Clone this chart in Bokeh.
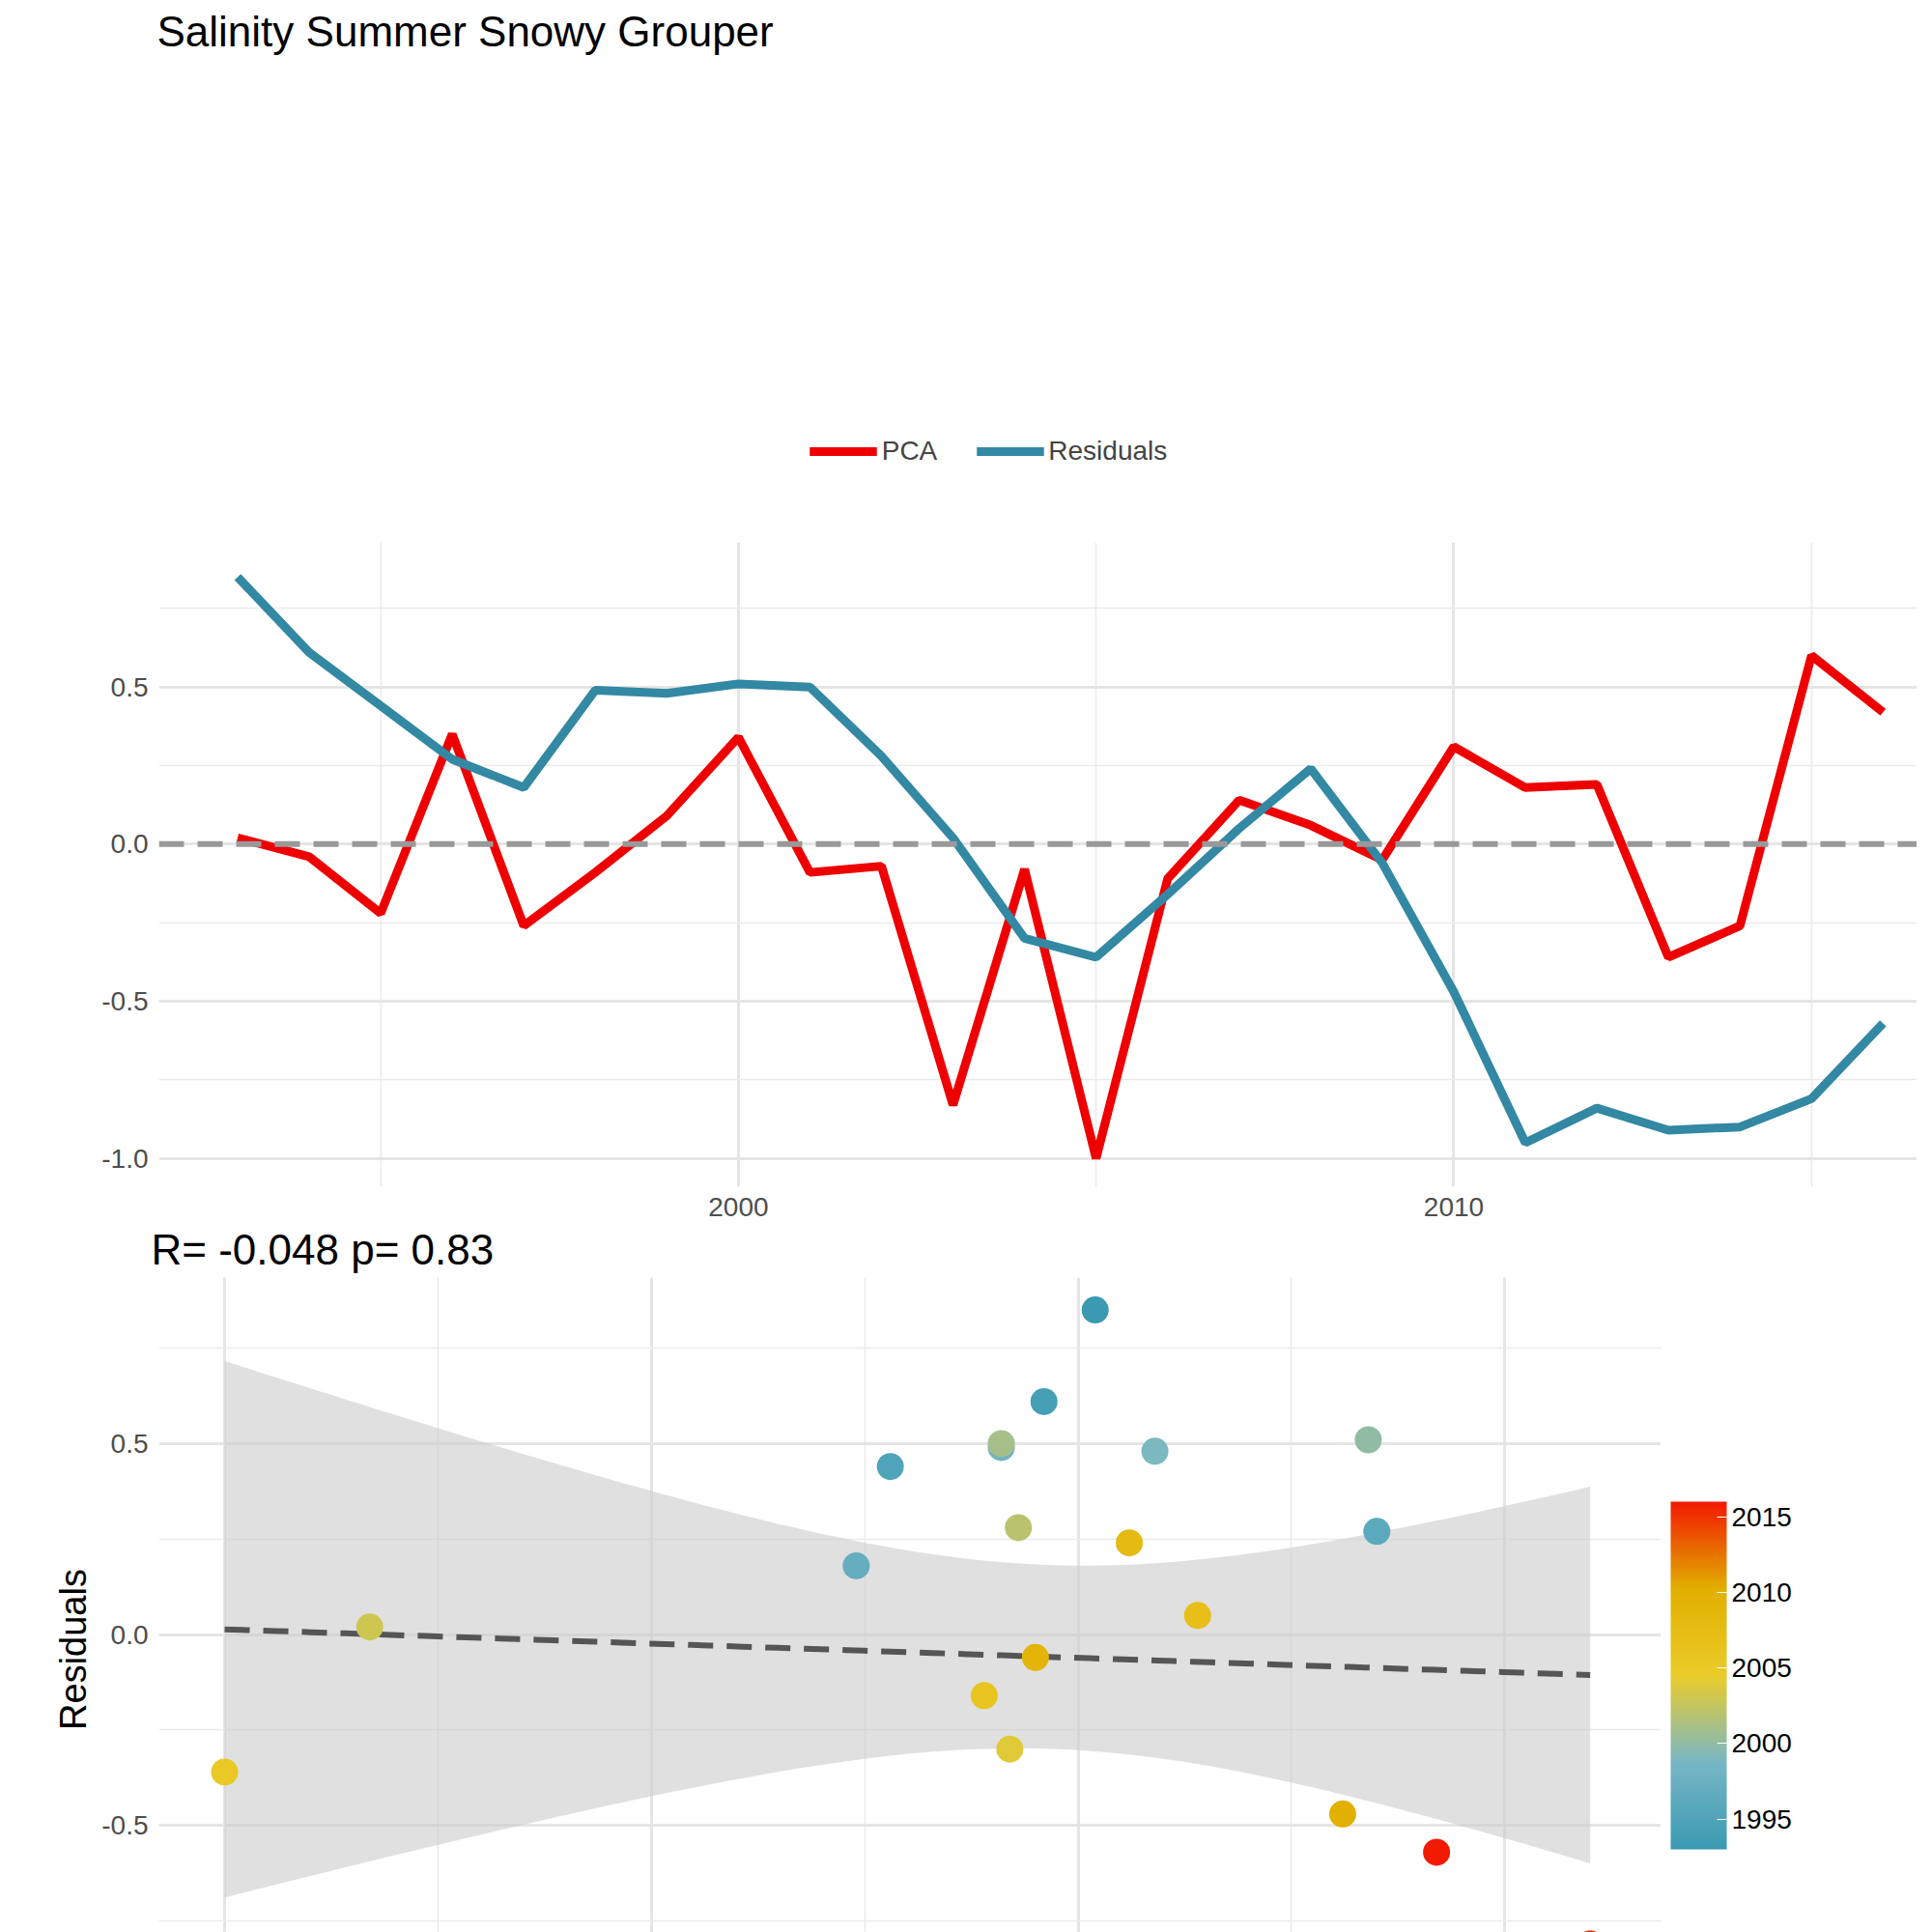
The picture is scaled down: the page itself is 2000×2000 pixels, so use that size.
import numpy as np
from bokeh.plotting import figure
from bokeh.models import (ColumnDataSource, LinearColorMapper, ColorBar, FixedTicker,
                          Span, Legend, LegendItem, Title)
from bokeh.layouts import column
from bokeh.embed import file_html
from bokeh.resources import INLINE

years = list(range(1993, 2017))
pca = [0.02, -0.04, -0.22, 0.35, -0.26, -0.09, 0.09, 0.34, -0.09, -0.07, -0.83, -0.08,
       -1.0, -0.11, 0.14, 0.06, -0.05, 0.31, 0.18, 0.19, -0.36, -0.26, 0.60, 0.42]
resid = [0.85, 0.61, 0.44, 0.27, 0.18, 0.49, 0.48, 0.51, 0.50, 0.28, 0.02, -0.30,
         -0.36, -0.16, 0.05, 0.24, -0.06, -0.47, -0.95, -0.84, -0.91, -0.90, -0.81, -0.57]
r_text = "R= -0.048  p= 0.83"

FONT = "Liberation Sans"
RED = "#EE0000"
BLUE = "#3388A3"
zissou = ["#3B9AB2", "#78B7C5", "#EBCC2A", "#E1AF00", "#F21A00"]


def interp_palette(cols, n=256):
    rgb = np.array([[int(c[i:i + 2], 16) for i in (1, 3, 5)] for c in cols], float)
    pos = np.linspace(0, 1, len(cols))
    t = np.linspace(0, 1, n)
    out = np.column_stack([np.interp(t, pos, rgb[:, k]) for k in range(3)])
    return ["#%02x%02x%02x" % tuple(int(round(v)) for v in row) for row in out]


def style(p):
    p.background_fill_color = "white"
    p.outline_line_color = None
    for ax in (p.xaxis, p.yaxis):
        ax.axis_line_color = None
        ax.major_tick_line_color = None
        ax.minor_tick_line_color = None
        ax.major_label_text_font = FONT
        ax.major_label_text_font_size = "28px"
        ax.major_label_text_color = "#4d4d4d"
        ax.axis_label_text_font = FONT
        ax.axis_label_text_font_size = "38px"
        ax.axis_label_text_font_style = "normal"
        ax.axis_label_text_color = "black"
    for g in (p.xgrid, p.ygrid):
        g.grid_line_color = "#e5e5e5"
        g.grid_line_width = 3
        g.minor_grid_line_color = "#ebebeb"
        g.minor_grid_line_width = 1.6


ov = {-1.0: "-1.0", -0.5: "-0.5", 0.0: "0.0", 0.5: "0.5"}

# ---- top time series
top = figure(frame_width=1870, frame_height=667, x_range=(1991.9, 2017.15), y_range=(-1.09, 0.96),
             output_backend="svg", toolbar_location=None,
             min_border_left=109, min_border_right=5, min_border_top=5, min_border_bottom=10)
style(top)
top.xaxis.ticker = FixedTicker(ticks=[2000, 2010], minor_ticks=[1995, 2005, 2015])
top.yaxis.ticker = FixedTicker(ticks=[-1.0, -0.5, 0.0, 0.5], minor_ticks=[-0.75, -0.25, 0.25, 0.75])
top.yaxis.major_label_overrides = ov
top.add_layout(Span(location=0, dimension="width", line_color="#999999",
                    line_width=6, line_dash="26 14"))
l_pca = top.line(years, pca, line_color=RED, line_width=9)
l_res = top.line(years, resid, line_color=BLUE, line_width=9)
leg = Legend(items=[LegendItem(label="PCA", renderers=[l_pca]),
                    LegendItem(label="Residuals", renderers=[l_res])],
             orientation="horizontal", location="center",
             label_text_font=FONT, label_text_font_size="28px",
             glyph_width=70, glyph_height=30, spacing=40, border_line_color=None,
             margin=0, padding=30)
top.add_layout(leg, "above")
top.add_layout(Title(text="Salinity Summer Snowy Grouper", text_font=FONT,
                     text_font_size="44px", text_font_style="normal",
                     text_color="black", offset=-2), "above")

# ---- bottom scatter with regression
x = np.array(pca)
y = np.array(resid)
n = len(x)
b1, b0 = np.polyfit(x, y, 1)
s = np.sqrt(np.sum((y - (b0 + b1 * x)) ** 2) / (n - 2))
xs = np.linspace(x.min(), x.max(), 80)
se = s * np.sqrt(1 / n + (xs - x.mean()) ** 2 / np.sum((x - x.mean()) ** 2))
fit = b0 + b1 * xs
tcrit = 2.074

bot = figure(frame_width=1555, frame_height=770, x_range=(-1.077, 0.683), y_range=(-1.013, 0.935),
             output_backend="svg", toolbar_location=None,
             x_axis_label="PCAs", y_axis_label="Residuals",
             min_border_left=164, min_border_right=30, min_border_top=20, min_border_bottom=5)
style(bot)
bot.xaxis.ticker = FixedTicker(ticks=[-1.0, -0.5, 0.0, 0.5], minor_ticks=[-0.75, -0.25, 0.25])
bot.yaxis.ticker = FixedTicker(ticks=[-1.0, -0.5, 0.0, 0.5], minor_ticks=[-0.75, -0.25, 0.25, 0.75])
bot.xaxis.major_label_overrides = ov
bot.yaxis.major_label_overrides = ov
bot.varea(x=xs, y1=fit - tcrit * se, y2=fit + tcrit * se, fill_color="#cccccc", fill_alpha=0.6)
bot.line(xs, fit, line_color="#555555", line_width=6, line_dash="26 14")
mapper = LinearColorMapper(palette=interp_palette(zissou), low=1993, high=2016)
src = ColumnDataSource(dict(x=pca, y=resid, year=years))
bot.scatter("x", "y", source=src, size=28, line_color=None,
            fill_color={"field": "year", "transform": mapper})
cb = ColorBar(color_mapper=mapper, width=58, height=360,
              ticker=FixedTicker(ticks=[1995, 2000, 2005, 2010, 2015]),
              major_label_text_font=FONT, major_label_text_font_size="28px",
              major_label_text_color="black",
              major_tick_line_color="white", major_tick_in=10, major_tick_out=0,
              bar_line_color=None, border_line_color=None, location=(0, 168),
              padding=10, margin=60)
bot.add_layout(cb, "right")
bot.add_layout(Title(text=r_text, text_font=FONT, text_font_size="44px",
                     text_color="black", text_font_style="normal", offset=-8), "above")

layout = column(top, bot, spacing=0)
open("out.html", "w").write(file_html(layout, INLINE))
